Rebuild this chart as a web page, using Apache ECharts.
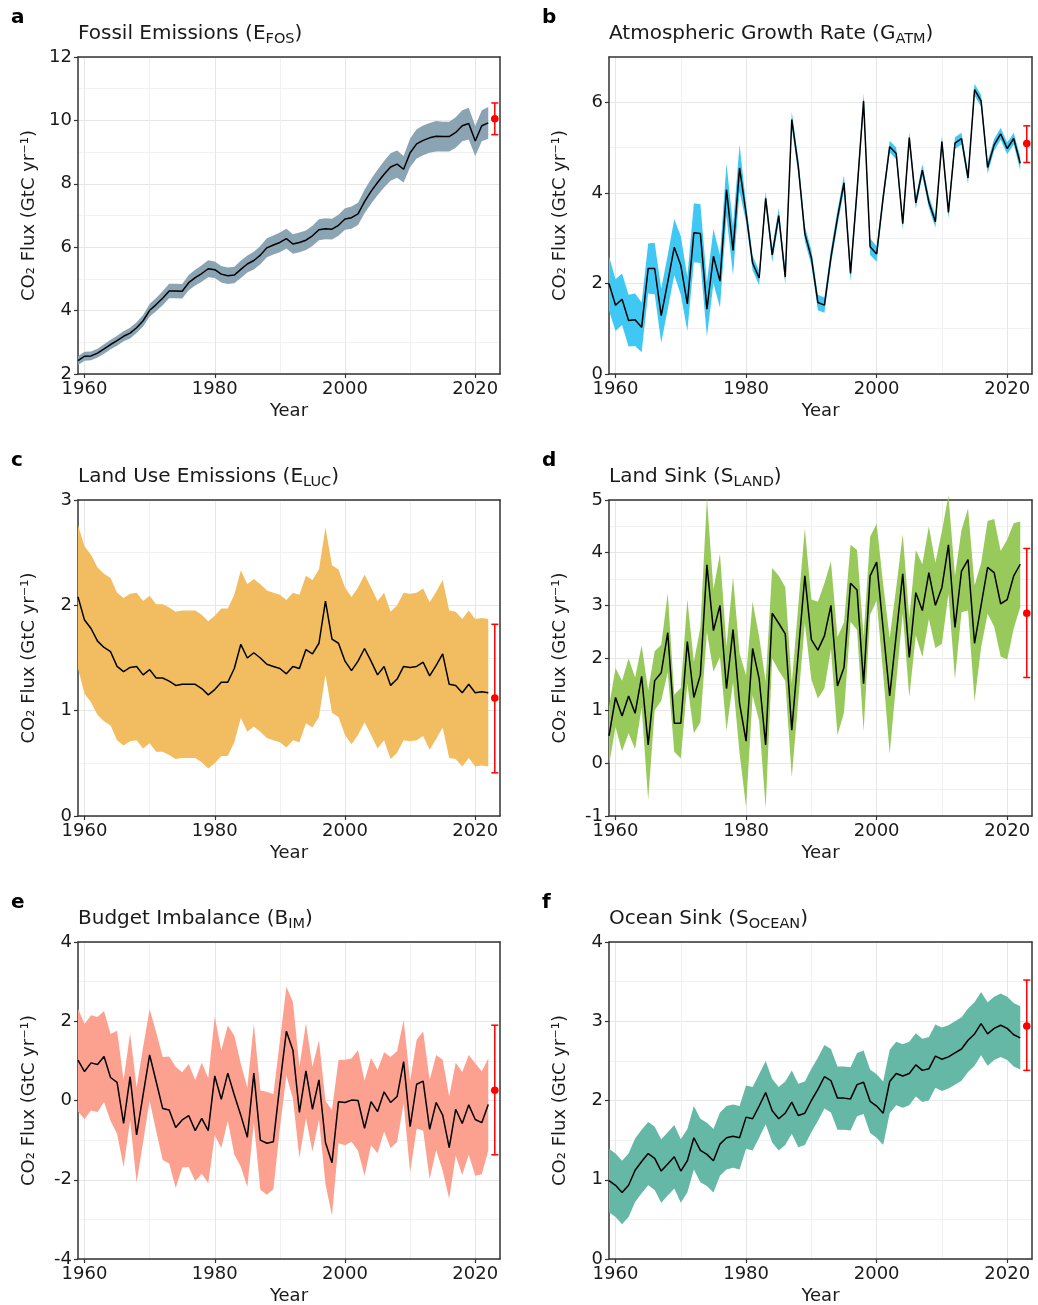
<!DOCTYPE html>
<html>
<head>
<meta charset="utf-8">
<script src="https://cdn.jsdelivr.net/npm/echarts@6/dist/echarts.min.js"></script>
<style>
  html, body { margin: 0; padding: 0; background: #fff; }
  #main { width: 1038px; height: 1305px; }
</style>
</head>
<body>
<div id="main"></div>
<script>
// years 1959 .. 2022, projection for 2023
const years = [];
for (let y = 1959; y <= 2022; y++) years.push(y);
const projYear = 2023;

const xTicks = [1960, 1980, 2000, 2020];
const xMinor = [1970, 1990, 2010];

// a - fossil emissions
const fosMean = [
  2.42, 2.56, 2.57, 2.66, 2.79, 2.93, 3.05, 3.19, 3.29, 3.46,
  3.68, 4.01, 4.19, 4.39, 4.62, 4.62, 4.61, 4.88, 5.04, 5.17,
  5.32, 5.29, 5.15, 5.10, 5.12, 5.30, 5.47, 5.58, 5.75, 5.98,
  6.07, 6.15, 6.27, 6.10, 6.15, 6.22, 6.36, 6.55, 6.58, 6.57,
  6.69, 6.89, 6.93, 7.05, 7.44, 7.76, 8.04, 8.30, 8.53, 8.62,
  8.46, 8.98, 9.26, 9.37, 9.45, 9.50, 9.49, 9.49, 9.62, 9.83,
  9.90, 9.35, 9.83, 9.92
];
const fosUnc = [
  0.14, 0.14, 0.14, 0.14, 0.15, 0.15, 0.16, 0.16, 0.17, 0.17,
  0.18, 0.20, 0.21, 0.22, 0.23, 0.23, 0.23, 0.24, 0.25, 0.26,
  0.27, 0.26, 0.26, 0.26, 0.26, 0.27, 0.27, 0.28, 0.29, 0.30,
  0.30, 0.31, 0.31, 0.31, 0.31, 0.31, 0.32, 0.33, 0.33, 0.33,
  0.33, 0.34, 0.35, 0.35, 0.37, 0.39, 0.40, 0.42, 0.43, 0.43,
  0.42, 0.45, 0.46, 0.47, 0.47, 0.48, 0.47, 0.47, 0.48, 0.49,
  0.50, 0.47, 0.49, 0.50
];
const fosProj = [10.05, 9.55, 10.55];

// b - atmospheric growth rate
const atmMean = [
  2.00, 1.52, 1.65, 1.18, 1.20, 1.03, 2.33, 2.33, 1.29, 2.03,
  2.80, 2.40, 1.55, 3.12, 3.10, 1.43, 2.60, 2.05, 4.07, 2.73,
  4.55, 3.55, 2.45, 2.12, 3.88, 2.63, 3.50, 2.14, 5.62, 4.58,
  3.10, 2.57, 1.58, 1.52, 2.58, 3.45, 4.22, 2.22, 4.05, 6.03,
  2.81, 2.65, 3.90, 5.02, 4.87, 3.32, 5.22, 3.78, 4.50, 3.80,
  3.36, 5.13, 3.57, 5.10, 5.20, 4.33, 6.28, 6.03, 4.56, 5.06,
  5.30, 4.98, 5.20, 4.65
];
const atmUnc = [
  0.60, 0.57, 0.57, 0.57, 0.58, 0.55, 0.55, 0.57, 0.60, 0.60,
  0.62, 0.65, 0.60, 0.65, 0.65, 0.60, 0.60, 0.58, 0.58, 0.55,
  0.52, 0.20, 0.16, 0.16, 0.15, 0.16, 0.16, 0.16, 0.17, 0.17,
  0.17, 0.17, 0.17, 0.17, 0.17, 0.17, 0.17, 0.17, 0.17, 0.17,
  0.18, 0.17, 0.13, 0.13, 0.13, 0.13, 0.13, 0.13, 0.13, 0.13,
  0.13, 0.13, 0.13, 0.13, 0.13, 0.13, 0.13, 0.13, 0.13, 0.13,
  0.13, 0.13, 0.13, 0.15
];
const atmProj = [5.09, 4.67, 5.48];

// c - land use emissions
const lucMean = [
  2.08, 1.86, 1.78, 1.66, 1.60, 1.56, 1.42, 1.37, 1.41, 1.42,
  1.34, 1.39, 1.31, 1.31, 1.28, 1.24, 1.25, 1.25, 1.25, 1.21,
  1.15, 1.20, 1.27, 1.27, 1.40, 1.63, 1.50, 1.55, 1.50, 1.44,
  1.42, 1.40, 1.35, 1.42, 1.40, 1.58, 1.54, 1.64, 2.04, 1.68,
  1.64, 1.47, 1.38, 1.47, 1.59, 1.47, 1.34, 1.42, 1.24, 1.30,
  1.42, 1.41, 1.42, 1.46, 1.33, 1.43, 1.54, 1.25, 1.24, 1.17,
  1.25, 1.17, 1.18, 1.17
];
const lucUnc = [
  0.68, 0.70, 0.70, 0.70, 0.70, 0.70, 0.70, 0.70, 0.70, 0.70,
  0.70, 0.70, 0.70, 0.70, 0.70, 0.70, 0.70, 0.70, 0.70, 0.70,
  0.70, 0.70, 0.70, 0.70, 0.70, 0.70, 0.70, 0.70, 0.70, 0.70,
  0.70, 0.70, 0.70, 0.70, 0.70, 0.70, 0.70, 0.70, 0.70, 0.70,
  0.70, 0.70, 0.70, 0.70, 0.70, 0.70, 0.70, 0.70, 0.70, 0.70,
  0.70, 0.70, 0.70, 0.70, 0.70, 0.70, 0.70, 0.70, 0.70, 0.70,
  0.70, 0.70, 0.70, 0.70
];
const lucProj = [1.12, 0.41, 1.82];

// d - land sink
const landMean = [
  0.52, 1.25, 0.90, 1.28, 0.95, 1.65, 0.35, 1.57, 1.72, 2.48,
  0.76, 0.76, 2.31, 1.25, 1.68, 3.77, 2.52, 3.00, 1.42, 2.54,
  1.14, 0.42, 2.18, 1.61, 0.35, 2.85, 2.66, 2.46, 0.63, 2.10,
  3.56, 2.35, 2.15, 2.42, 3.00, 1.47, 1.82, 3.42, 3.29, 1.51,
  3.56, 3.82, 2.55, 1.28, 2.44, 3.60, 2.01, 3.24, 2.90, 3.62,
  3.00, 3.34, 4.15, 2.58, 3.65, 3.87, 2.28, 3.00, 3.72, 3.62,
  3.03, 3.11, 3.56, 3.78
];
const landUnc = [
  0.55, 0.56, 0.67, 0.71, 0.68, 0.59, 1.04, 0.56, 0.53, 0.75,
  0.54, 0.67, 0.80, 0.68, 0.90, 1.27, 0.78, 0.98, 0.80, 1.00,
  0.95, 1.25, 0.89, 0.80, 1.20, 0.86, 0.90, 0.89, 0.89, 0.90,
  0.90, 0.76, 0.92, 1.00, 0.83, 0.93, 0.86, 0.73, 0.76, 0.90,
  0.74, 0.73, 0.85, 1.10, 0.90, 0.75, 0.75, 0.81, 0.88, 0.88,
  0.81, 1.07, 0.93, 0.98, 0.78, 0.97, 1.10, 0.80, 0.88, 1.02,
  1.00, 1.14, 1.00, 0.81
];
const landProj = [2.85, 1.63, 4.08];

// e - budget imbalance
const imbMean = [
  1.02, 0.73, 0.95, 0.91, 1.11, 0.58, 0.46, -0.58, 0.60, -0.87,
  0.15, 1.15, 0.48, -0.20, -0.24, -0.68, -0.49, -0.38, -0.76, -0.45,
  -0.76, 0.62, 0.03, 0.69, 0.14, -0.37, -0.93, 0.69, -1.00, -1.08,
  -1.04, 0.40, 1.75, 1.27, -0.30, 0.75, -0.22, 0.52, -1.06, -1.57,
  -0.03, -0.05, 0.01, 0.00, -0.70, -0.03, -0.28, 0.22, -0.05, 0.10,
  0.98, -0.66, 0.41, 0.49, -0.73, -0.05, -0.37, -1.19, -0.22, -0.58,
  -0.11, -0.48, -0.56, -0.10
];
const imbUnc = [
  1.30, 1.20, 1.20, 1.20, 1.15, 1.10, 1.30, 1.10, 1.10, 1.20,
  1.20, 1.15, 1.25, 1.30, 1.35, 1.53, 1.20, 1.30, 1.28, 1.40,
  1.33, 1.50, 1.23, 1.20, 1.50, 1.30, 1.25, 1.25, 1.25, 1.30,
  1.20, 1.10, 1.12, 1.22, 1.15, 1.20, 1.07, 1.00, 1.05, 1.33,
  1.05, 1.08, 1.05, 1.27, 1.20, 1.10, 1.05, 1.00, 1.15, 1.15,
  1.05, 1.15, 1.12, 1.25, 1.25, 1.20, 1.40, 1.29, 1.17, 1.30,
  1.26, 1.42, 1.30, 1.16
];
const imbProj = [0.26, -1.37, 1.90];

// f - ocean sink
const oceMean = [
  0.99, 0.93, 0.84, 0.93, 1.12, 1.23, 1.33, 1.27, 1.11, 1.20,
  1.29, 1.11, 1.24, 1.53, 1.37, 1.32, 1.24, 1.45, 1.53, 1.55,
  1.53, 1.79, 1.77, 1.93, 2.10, 1.87, 1.77, 1.84, 1.98, 1.81,
  1.84, 2.00, 2.14, 2.30, 2.25, 2.03, 2.03, 2.02, 2.20, 2.23,
  1.99, 1.93, 1.84, 2.24, 2.34, 2.31, 2.34, 2.45, 2.38, 2.40,
  2.56, 2.52, 2.55, 2.60, 2.65, 2.76, 2.84, 2.97, 2.84, 2.91,
  2.95, 2.91, 2.83, 2.79
];
const oceUnc = [
  0.40, 0.40, 0.40, 0.40, 0.40, 0.40, 0.40, 0.40, 0.40, 0.40,
  0.40, 0.40, 0.40, 0.40, 0.40, 0.40, 0.40, 0.40, 0.40, 0.40,
  0.40, 0.40, 0.40, 0.40, 0.40, 0.40, 0.40, 0.40, 0.40, 0.40,
  0.40, 0.40, 0.40, 0.40, 0.40, 0.40, 0.40, 0.40, 0.40, 0.40,
  0.40, 0.40, 0.40, 0.40, 0.40, 0.40, 0.40, 0.40, 0.40, 0.40,
  0.40, 0.40, 0.40, 0.40, 0.40, 0.40, 0.40, 0.40, 0.40, 0.40,
  0.40, 0.40, 0.40, 0.40
];
const oceProj = [2.94, 2.38, 3.52];

const FONT = 'DejaVu Sans';
const TXT = '#1a1a1a';
const FRAME = '#333333';

const panels = [
  { letter: 'a', title: ['Fossil Emissions (E', 'FOS', ')'], mean: fosMean, unc: fosUnc, proj: fosProj,
    yMin: 2, yMax: 12, yTicks: [2, 4, 6, 8, 10, 12], yMinor: [3, 5, 7, 9, 11], color: '#8aa4b4',
    grid: { left: 78, top: 57, width: 422, height: 317 } },
  { letter: 'b', title: ['Atmospheric Growth Rate (G', 'ATM', ')'], mean: atmMean, unc: atmUnc, proj: atmProj,
    yMin: 0, yMax: 7, yTicks: [0, 2, 4, 6], yMinor: [1, 3, 5], color: '#40c8f4',
    grid: { left: 609, top: 57, width: 423, height: 317 } },
  { letter: 'c', title: ['Land Use Emissions (E', 'LUC', ')'], mean: lucMean, unc: lucUnc, proj: lucProj,
    yMin: 0, yMax: 3, yTicks: [0, 1, 2, 3], yMinor: [0.5, 1.5, 2.5], color: '#f2bd60',
    grid: { left: 78, top: 500, width: 422, height: 316 } },
  { letter: 'd', title: ['Land Sink (S', 'LAND', ')'], mean: landMean, unc: landUnc, proj: landProj,
    yMin: -1, yMax: 5, yTicks: [-1, 0, 1, 2, 3, 4, 5], yMinor: [-0.5, 0.5, 1.5, 2.5, 3.5, 4.5], color: '#97c95b',
    grid: { left: 609, top: 500, width: 423, height: 316 } },
  { letter: 'e', title: ['Budget Imbalance (B', 'IM', ')'], mean: imbMean, unc: imbUnc, proj: imbProj,
    yMin: -4, yMax: 4, yTicks: [-4, -2, 0, 2, 4], yMinor: [-3, -1, 1, 3], color: '#fca090',
    grid: { left: 78, top: 942, width: 422, height: 317 } },
  { letter: 'f', title: ['Ocean Sink (S', 'OCEAN', ')'], mean: oceMean, unc: oceUnc, proj: oceProj,
    yMin: 0, yMax: 4, yTicks: [0, 1, 2, 3, 4], yMinor: [0.5, 1.5, 2.5, 3.5], color: '#66b8a6',
    grid: { left: 609, top: 942, width: 423, height: 317 } }
];

const grids = [], xAxes = [], yAxes = [], series = [], titles = [], graphics = [];

function plain(v) { return String(v); }

panels.forEach(function (p, i) {
  grids.push(Object.assign({ containLabel: false, outerBoundsMode: 'none' }, p.grid));

  const lineStyle = { color: FRAME, width: 1.5 };
  xAxes.push({
    gridIndex: i, type: 'value', min: 1959, max: 2023.8,
    axisLine: { show: true, onZero: false, lineStyle: lineStyle },
    axisTick: { show: true, length: 4, customValues: xTicks, lineStyle: { color: FRAME, width: 1.2 } },
    axisLabel: { customValues: xTicks, formatter: plain, fontSize: 18, fontFamily: FONT, color: TXT, margin: 6 },
    splitLine: { show: true, lineStyle: { color: '#e6e6e6', width: 1 } },
    name: 'Year', nameLocation: 'middle', nameGap: 28,
    nameTextStyle: { fontSize: 18, fontFamily: FONT, color: TXT }
  });
  xAxes.push({
    gridIndex: i, type: 'value', min: 1959, max: 2023.8, position: 'top',
    axisLine: { show: true, onZero: false, lineStyle: lineStyle },
    axisTick: { show: false, customValues: xMinor },
    axisLabel: { show: false, customValues: xMinor },
    splitLine: { show: true, lineStyle: { color: '#f1f1f1', width: 1 } }
  });
  yAxes.push({
    gridIndex: i, type: 'value', min: p.yMin, max: p.yMax,
    axisLine: { show: true, onZero: false, lineStyle: lineStyle },
    axisTick: { show: true, length: 4, customValues: p.yTicks, lineStyle: { color: FRAME, width: 1.2 } },
    axisLabel: { customValues: p.yTicks, formatter: plain, fontSize: 18, fontFamily: FONT, color: TXT, margin: 6 },
    splitLine: { show: true, lineStyle: { color: '#e6e6e6', width: 1 } },
    name: 'CO₂ Flux (GtC yr⁻¹)', nameLocation: 'middle', nameGap: 40,
    nameTextStyle: { fontSize: 18, fontFamily: FONT, color: TXT }
  });
  yAxes.push({
    gridIndex: i, type: 'value', min: p.yMin, max: p.yMax, position: 'right',
    axisLine: { show: true, onZero: false, lineStyle: lineStyle },
    axisTick: { show: false, customValues: p.yMinor },
    axisLabel: { show: false, customValues: p.yMinor },
    splitLine: { show: true, lineStyle: { color: '#f1f1f1', width: 1 } }
  });

  const bandPts = years.map(function (y, k) { return [y, p.mean[k] - p.unc[k], p.mean[k] + p.unc[k]]; });
  series.push({
    type: 'custom', xAxisIndex: 2 * i, yAxisIndex: 2 * i, silent: true, z: 1,
    data: bandPts,
    encode: { x: 0, y: [1, 2] },
    renderItem: function (params, api) {
      if (params.dataIndex !== 0) return null;
      const upper = bandPts.map(function (d) { return api.coord([d[0], d[2]]); });
      const lower = bandPts.map(function (d) { return api.coord([d[0], d[1]]); }).reverse();
      return { type: 'polygon', shape: { points: upper.concat(lower) }, style: { fill: p.color } };
    }
  });
  series.push({
    type: 'line', xAxisIndex: 2 * i, yAxisIndex: 2 * i, z: 2, silent: true,
    data: years.map(function (y, k) { return [y, p.mean[k]]; }),
    symbol: 'none', lineStyle: { color: '#000', width: 1.5 }
  });
  series.push({
    type: 'custom', xAxisIndex: 2 * i, yAxisIndex: 2 * i, z: 3, silent: true,
    data: [[projYear, p.proj[0], p.proj[1], p.proj[2]]],
    encode: { x: 0, y: [1, 2, 3] },
    renderItem: function (params, api) {
      const x = api.value(0);
      const c = api.coord([x, api.value(1)]);
      const lo = api.coord([x, api.value(2)]);
      const hi = api.coord([x, api.value(3)]);
      const st = { stroke: '#ff0000', lineWidth: 1.5 };
      return {
        type: 'group', children: [
          { type: 'line', shape: { x1: lo[0], y1: lo[1], x2: hi[0], y2: hi[1] }, style: st },
          { type: 'line', shape: { x1: lo[0] - 3.5, y1: lo[1], x2: lo[0] + 3.5, y2: lo[1] }, style: st },
          { type: 'line', shape: { x1: hi[0] - 3.5, y1: hi[1], x2: hi[0] + 3.5, y2: hi[1] }, style: st },
          { type: 'circle', shape: { cx: c[0], cy: c[1], r: 3.8 }, style: { fill: '#ff0000' } }
        ]
      };
    }
  });

  titles.push({
    left: p.grid.left, top: p.grid.top - 36, padding: 0,
    text: '{m|' + p.title[0] + '}{s|' + p.title[1] + '}{m|' + p.title[2] + '}',
    textStyle: {
      fontWeight: 'normal',
      rich: {
        m: { fontSize: 20, fontFamily: FONT, fontWeight: 'normal', color: TXT, lineHeight: 26 },
        s: { fontSize: 14.5, fontFamily: FONT, fontWeight: 'normal', color: TXT, lineHeight: 14, verticalAlign: 'bottom' }
      }
    }
  });
  graphics.push({
    type: 'text', left: (p.grid.left < 300 ? 11 : 542), top: p.grid.top - 49,
    style: { text: p.letter, font: 'bold 20px "DejaVu Sans"', fill: '#000' }
  });
});

const chart = echarts.init(document.getElementById('main'), null, { renderer: 'canvas' });
chart.setOption({
  animation: false,
  backgroundColor: '#fff',
  title: titles,
  graphic: graphics,
  grid: grids,
  xAxis: xAxes,
  yAxis: yAxes,
  series: series
});
</script>
</body>
</html>
